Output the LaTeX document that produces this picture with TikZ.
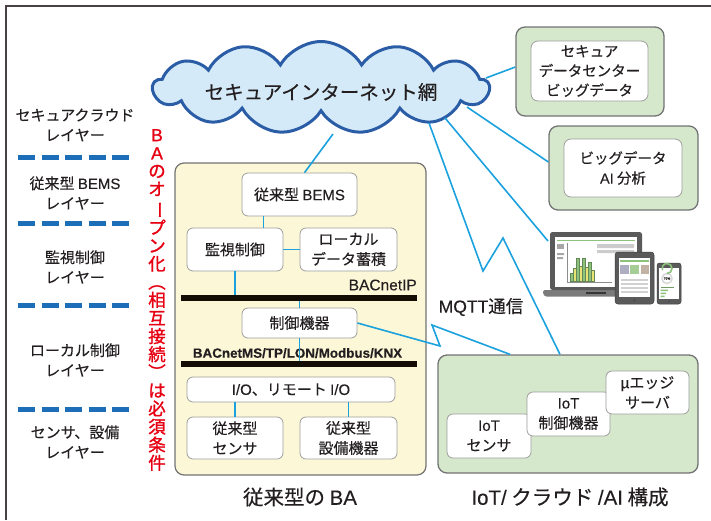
\documentclass[tikz,border=0pt]{standalone}
\usepackage{fontspec}
\setmainfont{Noto Sans CJK JP}[FakeBold=0.35]
\newfontfamily\lat{Liberation Sans}[FakeBold=0.25]
\newfontfamily\headjp{Noto Sans CJK JP}[FakeBold=1.3]
\newfontfamily\headlat{Liberation Sans}[FakeBold=1.3]
\usetikzlibrary{shapes.symbols}

\definecolor{ink}{HTML}{231F20}
\definecolor{framegray}{HTML}{4A4242}
\definecolor{netblue}{HTML}{1BA1DD}
\definecolor{cloudfill}{HTML}{D4EAF8}
\definecolor{cloudline}{HTML}{2B5DA7}
\definecolor{layerdash}{HTML}{1B6EB7}
\definecolor{cream}{HTML}{FCF7D7}
\definecolor{leaf}{HTML}{D5E8CC}
\definecolor{alertred}{HTML}{E60012}
\definecolor{devgray}{HTML}{5A5A5A}
\definecolor{barlime}{HTML}{E6E274}
\definecolor{bargreen}{HTML}{8DC27C}

\newcommand\fsz[2]{\fontsize{#1}{#2}\selectfont}
\newcommand\la[1]{{\lat #1}}
\newcommand\hla[1]{{\headlat #1}}

\tikzset{
  txt/.style={text=ink, inner sep=0pt, align=center},
  whitebox/.style={draw=black!38, fill=white, rounded corners=6pt, line width=0.8pt,
    inner sep=0pt, align=center, text=ink, font=\fsz{15}{20}},
  basebox/.style={draw=black!55, rounded corners=9pt, line width=1.3pt, inner sep=0pt},
  busbar/.style={fill=black!90!brown, inner sep=0pt, minimum height=6pt},
  link/.style={draw=netblue, line width=1.6pt},
  layerline/.style={draw=layerdash, line width=5pt, dash pattern=on 17.2pt off 6.3pt},
  layerlabel/.style={txt, font=\fsz{15}{20}},
}

\begin{document}
\begin{tikzpicture}[x=1pt,y=-1pt]
\useasboundingbox (0,0) rectangle (711,520);

% outer frame (left and top edges)
\draw[framegray, line width=1.5pt] (6,520) -- (6,6) -- (711,6);

% ---------- layer labels on the left ----------
\node[layerlabel] (l1) at (75,125) {セキュアクラウド\\レイヤー};
\node[layerlabel] (l2) at (75,193) {従来型 \la{BEMS}\\レイヤー};
\node[layerlabel] (l3) at (75,267) {監視制御\\レイヤー};
\node[layerlabel] (l4) at (75,360) {ローカル制御\\レイヤー};
\node[layerlabel] (l5) at (75,442) {センサ、設備\\レイヤー};
\foreach \y in {157,223,305,409}
  \draw[layerline] (18,\y) -- (130,\y);

% vertical red statement
\node[txt, text=alertred, font=\headjp\fsz{17.5}{18.1}] (open) at (157,300)
  {\hla{B}\\\hla{A}\\の\\オ\\\rotatebox[origin=c]{-90}{ー}\\プ\\ン\\化\\︵\\相\\互\\接\\続\\︶\\は\\必\\須\\条\\件};

% ---------- conventional BA ----------
\node[basebox, fill=cream, draw=black!55, line width=1.2pt, minimum width=251pt, minimum height=312pt] (ba) at (300.5,319) {};

\node[whitebox, minimum width=115pt, minimum height=43pt] (bems) at (299.5,194.5) {従来型 \la{BEMS}};
\node[whitebox, minimum width=96pt, minimum height=43pt] (kanshi) at (235,249.5) {監視制御};
\node[whitebox, minimum width=97pt, minimum height=43pt] (local) at (348.5,249.5) {ローカル\\データ蓄積};
\node[busbar, minimum width=236pt] (ip) at (299,298) {};
\node[txt, anchor=east, font=\lat\fsz{15.5}{18}] (iplabel) at (417,285) {BACnetIP};
\node[whitebox, minimum width=115pt, minimum height=30pt] (seigyo) at (299.5,323) {制御機器};
\node[txt, font=\lat\bfseries\fsz{13.4}{16}] (mslabel) at (297.5,353) {BACnetMS/TP/LON/Modbus/KNX};
\node[busbar, minimum width=236pt] (ms) at (299,364) {};
\node[whitebox, minimum width=208pt, minimum height=25pt] (io) at (291,389.5) {\la{I/O}、リモート \la{I/O}};
\node[whitebox, minimum width=96pt, minimum height=42pt] (sensor) at (235,438) {従来型\\センサ};
\node[whitebox, minimum width=97pt, minimum height=42pt] (setsubi) at (348.5,438) {従来型\\設備機器};

\draw[link] ([xshift=22pt]bems.south west) -- ([xshift=22pt]bems.south west |- kanshi.north);
\draw[link] (kanshi.east) -- (local.west);
\draw[link] (kanshi.south) -- (kanshi.south |- ip.north);
\draw[link] (ip.south -| seigyo.north) -- (seigyo.north);
\draw[link] (seigyo.south) -- (seigyo.south |- ms.north);
\draw[link] (ms.south -| seigyo.south) -- (ms.south -| seigyo.south |- io.north);
\draw[link] (io.south -| sensor.north) -- (sensor.north);
\draw[link] (io.south -| setsubi.north) -- (setsubi.north);

\node[txt, font=\fsz{20.5}{24}] (bacap) at (300,497) {従来型の \la{BA}};

% ---------- cloud ----------
\coordinate (cb) at (333,134);
\coordinate (cdc) at (486,78);
\coordinate (cai) at (467,107);
\coordinate (cpc) at (445,118);
\coordinate (cmq) at (429,123);
\draw[link] (cb) -- ([xshift=5pt]bems.north);
\node[cloud, cloud puffs=13, cloud puff arc=120, aspect=3.5, draw=cloudline, fill=cloudfill,
      line width=3pt, minimum width=336pt, minimum height=92pt, inner sep=0pt] (net) at (321,87.5) {};
\node[txt, font=\fsz{19.5}{24}] (netlabel) at (321,92) {セキュアインターネット網};

% ---------- data centre / AI boxes ----------
\node[basebox, fill=leaf, minimum width=148pt, minimum height=89pt] (dc) at (590,71.5) {};
\node[whitebox, rounded corners=7pt, minimum width=117pt, minimum height=60pt, font=\fsz{14.5}{19.5}] (dcin) at (589.5,71) {セキュア\\データセンター\\ビッグデータ};
\node[basebox, fill=leaf, minimum width=149pt, minimum height=84pt] (ai) at (623.5,168) {};
\node[whitebox, rounded corners=7pt, minimum width=118pt, minimum height=58pt, font=\fsz{14.5}{20}] (aiin) at (623,168) {ビッグデータ\\\la{AI} 分析};

\draw[link] (cdc) -- ([yshift=4.5pt]dc.west);
\draw[link] (cai) -- ([yshift=6pt]ai.west);

% ---------- devices ----------
% laptop
\fill[devgray!80] (543,290) -- (650,290) -- (650,294) [rounded corners=1.5pt] -- (648,296.5) -- (545,296.5) -- (543,294) -- cycle;
\fill[devgray!60!black] (586,292.2) rectangle (606,294);
\node[fill=devgray, rounded corners=2.5pt, minimum width=92pt, minimum height=58pt, inner sep=0pt] (laptop) at (596,261) {};
\fill[white] (555,237) rectangle (637,287);
\fill[devgray] (596,234.3) circle (0.9);
\draw[bargreen, line width=1.1pt] (557,240.5) -- (635,240.5);
\fill[black!35] (557,244) rectangle (564,249);
\fill[black!35] (557,253) rectangle (564,255) (557,257) rectangle (563,259);
\draw[black!45, line width=0.6pt] (567,243) -- (567,282) -- (612,282);
\fill[black!20] (597,244) rectangle (634,248) (597,250) rectangle (634,253);
\foreach \i/\t/\c in {0/273/bargreen,1/268/barlime,2/258/bargreen,3/266/barlime,4/258/bargreen,5/267/barlime,6/262/bargreen,7/270/barlime}
  \filldraw[fill=\c, draw=bargreen!70!black, line width=0.3pt] (570+3*\i,\t) rectangle (573+3*\i,281.5);
% tablet
\node[fill=devgray, draw=devgray!70!black, line width=0.5pt, rounded corners=3pt, minimum width=39pt, minimum height=52pt, inner sep=0pt] (tablet) at (634.5,278) {};
\fill[white] (619,258) rectangle (650,297);
\fill[black!70] (634.5,300.5) circle (1.3) (634.5,255) circle (0.7);
\draw[bargreen, line width=1.2pt] (620,261) -- (649,261);
\fill[blue!15!gray!55] (620,265) rectangle (628.5,274);
\fill[bargreen!80] (630,265) rectangle (639,274);
\fill[brown!40!gray!60] (640.5,265) rectangle (649,274);
\foreach \y in {279,283,287,291}
  \fill[black!18] (621,\y) rectangle (648,\y+2.2);
% phone
\node[fill=devgray, draw=devgray!70!black, line width=0.5pt, rounded corners=2.5pt, minimum width=24pt, minimum height=41pt, inner sep=0pt] (phone) at (669,283.5) {};
\fill[white] (659,268) rectangle (679,298.5);
\fill[black!70] (669,301.2) circle (1) (669,265.5) circle (0.5);
\draw[black!15, line width=1.6pt] (667,278.5) circle (5);
\draw[bargreen, line width=1.6pt] (667,273.5) arc[start angle=90, end angle=-200, radius=5];
\node[txt, font=\lat\fsz{3.2}{3.5}] (pct) at (667,278.5) {70\%};
\fill[bargreen!80!black] (660.5,286.5) rectangle (674,288);
\fill[bargreen] (660.5,289.5) rectangle (668,291) (660.5,292.5) rectangle (666,294) (660.5,295.5) rectangle (664.5,297);
\coordinate (lapt) at (548,241);
\draw[link] (cpc) -- (lapt);

% ---------- IoT / cloud / AI ----------
\node[basebox, fill=leaf, minimum width=260pt, minimum height=118pt] (iot) at (568,414) {};
\node[whitebox, minimum width=84pt, minimum height=44pt] (iotsensor) at (489,436) {\la{IoT}\\センサ};
\node[whitebox, minimum width=83pt, minimum height=44pt] (iotctrl) at (568.5,414) {\la{IoT}\\制御機器};
\node[whitebox, minimum width=83pt, minimum height=43pt] (edge) at (647.5,392.5) {\la{\textmu}エッジ\\サーバ};
\node[txt, font=\fsz{20.5}{24}] (iotcap) at (570,497) {\la{IoT/} クラウド \la{/AI} 構成};

% MQTT links
\coordinate (m1) at (483,271);
\coordinate (m2) at (503,238);
\coordinate (k1) at (440,346);
\coordinate (k2) at (432,325);
\draw[link, line join=miter] (cmq) -- (m1) -- (m2) -- ([xshift=-8pt]iot.north);
\draw[link, line join=miter] (seigyo.east) -- (k1) -- (k2) -- ([xshift=-58pt]iot.north);
\node[txt, font=\fsz{17.5}{20}] (mqtt) at (481,307) {\la{MQTT}通信};

\end{tikzpicture}
\end{document}
